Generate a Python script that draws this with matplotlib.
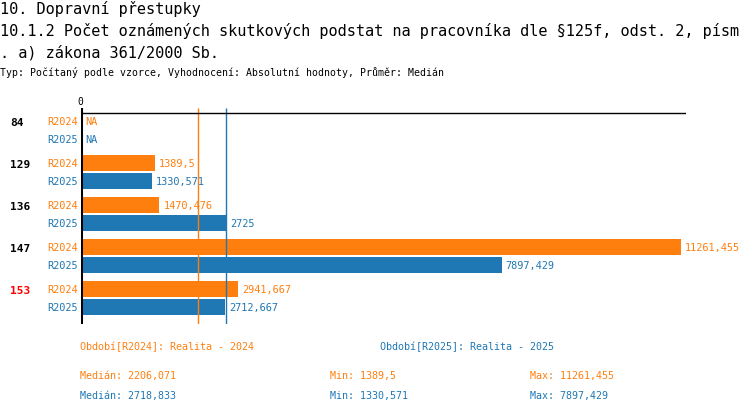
import numpy as np
import matplotlib
matplotlib.use('Agg')
import matplotlib.pyplot as plt

# data
categories = ['84', '129', '136', '147', '153']
cat_colors = ['black', 'black', 'black', 'black', 'red']
series = ['R2024', 'R2025']
values_2024 = [np.nan, 1389.5, 1470.476, 11261.455, 2941.667]
values_2025 = [np.nan, 1330.571, 2725, 7897.429, 2712.667]
legend_labels = ['Období[R2024]: Realita - 2024', 'Období[R2025]: Realita - 2025']

title_lines = ['10. Dopravní přestupky',
               '10.1.2 Počet oznámených skutkových podstat na pracovníka dle §125f, odst. 2, písm',
               '. a) zákona 361/2000 Sb.']
subtitle = 'Typ: Počítaný podle vzorce, Vyhodnocení: Absolutní hodnoty, Průměr: Medián'

ORANGE = '#ff7f0e'
BLUE = '#1f77b4'
MONO = 'DejaVu Sans Mono'

W, H = 750, 414


def fmt(v):
    if np.isnan(v):
        return 'NA'
    s = '{:.3f}'.format(v).rstrip('0').rstrip('.')
    return s.replace('.', ',')


def px(x, y):
    return x / W, 1 - y / H


fig = plt.figure(figsize=(W / 100, H / 100), dpi=100)
fig.patch.set_facecolor('white')

# axes laid out in pixel units so the text outside lines up
ax_left, ax_right, ax_top, ax_bottom = 81, 686, 109, 325
ax = fig.add_axes([ax_left / W, 1 - ax_bottom / H,
                   (ax_right - ax_left) / W, (ax_bottom - ax_top) / H])
xmax = 11361
ax.set_xlim(0, xmax)
ax.set_ylim(ax_bottom, ax_top)
ax.axis('off')

first_row, group_gap, pair_gap, bar_h = 122, 42, 18, 16
colors = [ORANGE, BLUE]
all_vals = [values_2024, values_2025]

for s, vals in enumerate(all_vals):
    ys = [first_row + group_gap * i + pair_gap * s for i in range(len(categories))]
    v = np.array(vals, dtype=float)
    ax.barh(ys, np.nan_to_num(v), height=bar_h, color=colors[s], linewidth=0)
    for y, val in zip(ys, v):
        x = 0 if np.isnan(val) else val
        ax.annotate(fmt(val), (x, y), xytext=(3, 0), textcoords='offset points',
                    ha='left', va='center', fontsize=7.4, family=MONO,
                    color=colors[s])
        fig.text(*px(78, y), series[s], ha='right', va='center',
                 fontsize=7.4, family=MONO, color=colors[s])

for i, cat in enumerate(categories):
    y = first_row + group_gap * i + 1
    fig.text(*px(10, y), cat, ha='left', va='center', fontsize=8,
             family=MONO, weight='bold', color=cat_colors[i])

# median lines
medians = [np.nanmedian(v) for v in all_vals]
for med, c in zip(medians, colors):
    ax.vlines(med, ax_top, ax_bottom, color=c, linewidth=1)

ax.hlines(114, 0, xmax, color='black', linewidth=1)
ax.vlines(0, ax_top - 1, ax_bottom, color='black', linewidth=2.2)
fig.text(*px(80, 102), '0', ha='center', va='center', fontsize=7,
         family=MONO)

# titles
for k, line in enumerate(title_lines):
    fig.text(*px(0, 9 + 22 * k), line, ha='left', va='center',
             fontsize=10.95, family=MONO)
fig.text(*px(0, 73), subtitle, ha='left', va='center', fontsize=7.1,
         family=MONO)

# footer legend and stats
fig.text(*px(80, 347), legend_labels[0], ha='left', va='center',
         fontsize=7.2, family=MONO, color=ORANGE)
fig.text(*px(380, 347), legend_labels[1], ha='left', va='center',
         fontsize=7.2, family=MONO, color=BLUE)
for s, vals in enumerate(all_vals):
    v = np.array(vals, dtype=float)
    y = 376 + 20 * s
    fig.text(*px(80, y), 'Medián: ' + fmt(round(medians[s] - 1e-9, 3)),
             ha='left', va='center', fontsize=7.2, family=MONO, color=colors[s])
    fig.text(*px(330, y), 'Min: ' + fmt(np.nanmin(v)), ha='left',
             va='center', fontsize=7.2, family=MONO, color=colors[s])
    fig.text(*px(530, y), 'Max: ' + fmt(np.nanmax(v)), ha='left',
             va='center', fontsize=7.2, family=MONO, color=colors[s])

fig.savefig('out.png', dpi=100)
